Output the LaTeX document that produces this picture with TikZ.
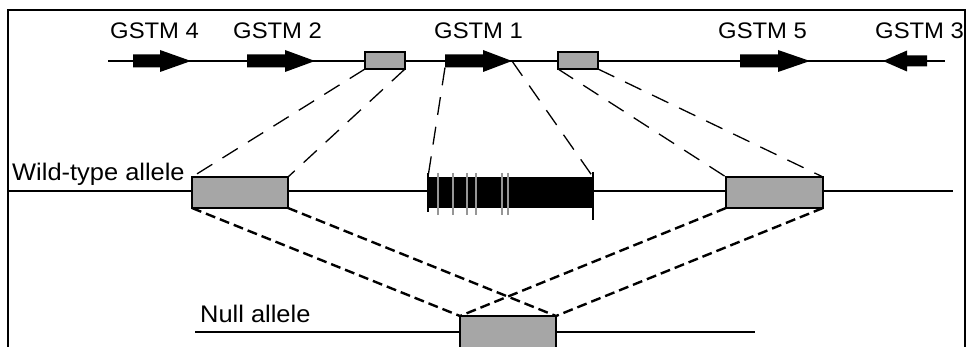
\documentclass[tikz,border=0pt]{standalone}
\usepackage{fontspec}
\setmainfont{Liberation Sans}[FakeStretch=1.06]
\definecolor{boxgray}{RGB}{166,166,166}
\definecolor{stripegray}{RGB}{150,150,150}
\begin{document}
\begin{tikzpicture}[x=1pt,y=-1pt,
  lbl/.style={anchor=base west, inner sep=0pt, font=\fontsize{22.5}{22.5}\selectfont},
  albl/.style={anchor=base west, inner sep=0pt, font=\fontsize{24}{24}\selectfont},
  gbox/.style={draw=black, fill=boxgray, line width=2.4pt, inner sep=0pt, anchor=north west, outer sep=0pt},
  upd/.style={dash pattern=on 18pt off 12pt, line width=1.3pt},
  lod/.style={dash pattern=on 10pt off 5pt, line width=2.4pt},
  ln/.style={line width=2.2pt},
  gene/.style={fill=black},
  stripe/.style={draw=stripegray, line width=1.6pt}]
\useasboundingbox (0,0) rectangle (967,347);
\fill[white] (0,0) rectangle (967,347);

% labels
\node[lbl] (t4) at (110,39) {GSTM 4};
\node[lbl] (t2) at (233,39) {GSTM 2};
\node[lbl] (t1) at (434,39) {GSTM 1};
\node[lbl] (t5) at (718,39) {GSTM 5};
\node[lbl] (t3) at (875,39) {GSTM 3};
\node[albl] (twt) at (12,181) {Wild-type allele};
\node[albl] (tnull) at (200,323) {Null allele};

% chromosome lines
\coordinate (topL) at (108,61);
\coordinate (topR) at (945,61);
\draw[ln] (topL) -- (topR);
\coordinate (wtL) at (8,191);
\coordinate (wtR) at (953,191);
\draw[ln] (wtL) -- (wtR);
\coordinate (nuL) at (195,332);
\coordinate (nuR) at (755,332);
\draw[ln] (nuL) -- (nuR);

% genes (arrows)
\fill[gene] (133,54.5)--(160,54.5)--(160,50)--(191,61)--(160,72)--(160,67.5)--(133,67.5)--cycle;
\fill[gene] (247,54.5)--(285,54.5)--(285,50)--(315,61)--(285,72)--(285,67.5)--(247,67.5)--cycle;
\fill[gene] (445,54.5)--(483,54.5)--(483,50)--(512,61)--(483,72)--(483,67.5)--(445,67.5)--cycle;
\fill[gene] (740,54.5)--(778,54.5)--(778,50)--(810,61)--(778,72)--(778,67.5)--(740,67.5)--cycle;
\fill[gene] (927,55.5)--(907,55.5)--(907,50.5)--(883,61)--(907,71.5)--(907,66.5)--(927,66.5)--cycle;
\coordinate (g1s) at (445,67.5);
\coordinate (g1t) at (512,61);

% small grey boxes on top line
\node[gbox, minimum width=40pt, minimum height=17pt] (a1) at (365,52) {};
\node[gbox, minimum width=40pt, minimum height=17pt] (a2) at (558,52) {};

% wild-type boxes
\node[gbox, minimum width=96pt, minimum height=31pt] (w1) at (192,177) {};
\node[gbox, minimum width=97pt, minimum height=31pt] (w2) at (726,177) {};
\node[fill=black, inner sep=0pt, outer sep=0pt, anchor=north west, minimum width=165pt, minimum height=31pt] (bk) at (428,177) {};
\foreach \x in {438,453,467,476,502,508} \draw[stripe] (\x,173) -- (\x,215);
\draw[line width=1.8pt] (428,173) -- (428,212);
\draw[line width=1.8pt] (593,172) -- (593,220);

% null box
\node[gbox, minimum width=96pt, minimum height=45pt] (nb) at (460,316) {};

% upper dashed projections
\draw[upd] (a1.south west) -- (w1.north west);
\draw[upd] (a1.south east) -- (w1.north east);
\draw[upd] (g1s) -- (bk.north west);
\draw[upd] (g1t) -- (bk.north east);
\draw[upd] (a2.south west) -- (w2.north west);
\draw[upd] (a2.south east) -- (w2.north east);

% lower dashed projections
\draw[lod] (w1.south west) -- (nb.north west);
\draw[lod] (w1.south east) -- (nb.north east);
\draw[lod] (w2.south west) -- (nb.north west);
\draw[lod] (w2.south east) -- (nb.north east);

% frame
\draw[line width=2.8pt] (8,347) -- (8,10) -- (965,10) -- (965,347);
\end{tikzpicture}
\end{document}
